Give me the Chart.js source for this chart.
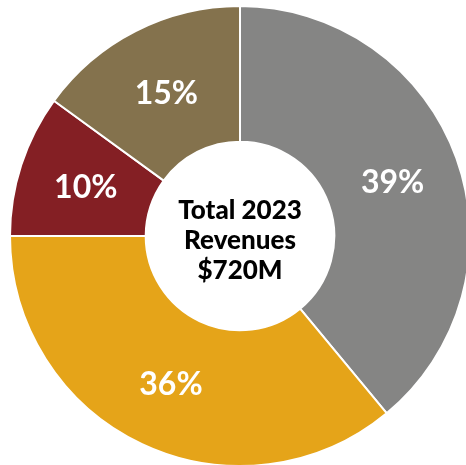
<html><head><meta charset="UTF-8"><title>Total 2023 Revenues</title><style>
body {
    margin: 0;
    background-color: white;
    overflow: hidden;
    width: 466px;
    height: 465px;
    position: relative;
}
.chart-container {
    position: absolute;
    left: 9px;
    top: 5px;
    width: 462px;
    height: 462px;
}
</style>
<script src="https://cdn.jsdelivr.net/npm/chart.js"></script>
</head>
<body>
<div class="chart-container">
    <canvas id="revChart"></canvas>
</div>
<script>
const segmentos = ['Segmento 1', 'Segmento 2', 'Segmento 3', 'Segmento 4'];
const porcentajes = [39, 36, 10, 15];
const etiquetas = ['39%', '36%', '10%', '15%'];
const colores = ['#858584', '#E5A419', '#841F24', '#84724D'];
const textoCentro = ['Total 2023', 'Revenues', '$720M'];

// labels inside the slices + text in the hole
const etiquetasPlugin = {
    id: 'etiquetas',
    afterDatasetsDraw(chart) {
        const ctx = chart.ctx;
        const meta = chart.getDatasetMeta(0);
        ctx.save();
        ctx.fillStyle = 'white';
        ctx.font = 'bold 32px Lato';
        ctx.textAlign = 'center';
        ctx.textBaseline = 'middle';
        meta.data.forEach((arc, i) => {
            const p = arc.getCenterPoint();
            ctx.fillText(etiquetas[i], p.x, p.y + 2);
        });
        const cx = meta.data[0].x;
        const cy = meta.data[0].y;
        ctx.fillStyle = 'black';
        ctx.font = '900 26px Lato';
        textoCentro.forEach((t, i) => {
            ctx.fillText(t, cx, cy - 25 + i * 30);
        });
        ctx.restore();
    }
};

const ctx = document.getElementById('revChart').getContext('2d');
const chart = new Chart(ctx, {
    type: 'doughnut',
    data: {
        labels: segmentos,
        datasets: [{
            data: porcentajes,
            backgroundColor: colores,
            borderColor: 'white',
            borderWidth: 2
        }]
    },
    options: {
        responsive: true,
        maintainAspectRatio: false,
        animation: false,
        cutout: '41%',
        layout: { padding: 0 },
        plugins: {
            legend: { display: false },
            tooltip: { enabled: false }
        }
    },
    plugins: [etiquetasPlugin]
});
</script>
</body></html>
